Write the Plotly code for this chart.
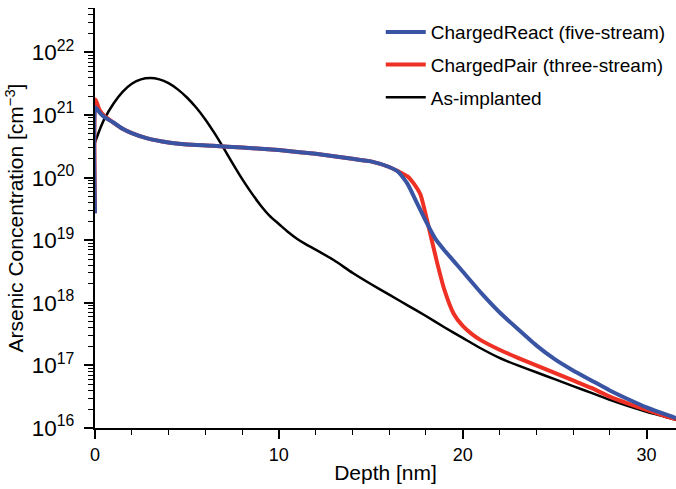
import plotly.graph_objects as go
import numpy as np

# Depth [nm] and log10(concentration [cm^-3])
black_x = [0, 0.25, 0.5, 1.0, 1.5, 2.0, 2.5, 3.0, 3.5, 4.0, 4.5, 5.0, 5.5, 6.0, 6.5, 7.0, 7.5, 8.0,
           8.5, 9.0, 9.5, 10, 10.5, 11, 11.5, 12, 13, 14, 15, 16, 17, 18, 19, 20, 21, 22, 23, 24,
           25, 26, 27, 28, 29, 30, 31, 31.6]
black_log = [20.56, 20.76, 20.93, 21.18, 21.37, 21.50, 21.57, 21.59, 21.57, 21.51, 21.41, 21.28,
             21.12, 20.93, 20.71, 20.47, 20.22, 19.98, 19.76, 19.56, 19.39, 19.26, 19.13, 19.02,
             18.93, 18.85, 18.68, 18.48, 18.30, 18.13, 17.96, 17.79, 17.61, 17.44, 17.27, 17.12,
             17.00, 16.89, 16.78, 16.67, 16.56, 16.45, 16.35, 16.26, 16.18, 16.13]

blue_x = [0, 0.02, 0.25, 0.5, 1.0, 1.5, 2.0, 2.8, 4.0, 5.0, 6.4, 8.0, 10, 12, 14, 15, 16, 16.5,
          17, 17.5, 18, 18.5, 19, 19.5, 20, 21, 22, 23, 24, 25, 26, 27, 28, 29, 30, 31, 31.6]
blue_log = [19.43, 21.12, 21.04, 20.97, 20.88, 20.78, 20.71, 20.63, 20.56, 20.53, 20.51, 20.48,
            20.44, 20.38, 20.30, 20.26, 20.17, 20.09, 19.90, 19.60, 19.30, 19.03, 18.84, 18.67,
            18.50, 18.16, 17.85, 17.58, 17.32, 17.10, 16.92, 16.76, 16.60, 16.46, 16.33, 16.22,
            16.16]

red_x = [0, 0.02, 0.25, 0.5, 1.0, 1.5, 2.0, 2.8, 4.0, 5.0, 6.4, 8.0, 10, 12, 14, 15, 16, 16.5,
         17, 17.3, 17.7, 18.1, 18.6, 19, 19.5, 20, 20.5, 21, 22, 23, 24, 25, 26, 27, 28, 29, 30,
         31, 31.6]
red_log = [19.43, 21.25, 21.08, 20.99, 20.88, 20.78, 20.71, 20.63, 20.56, 20.53, 20.51, 20.48,
           20.44, 20.38, 20.30, 20.26, 20.17, 20.10, 20.02, 19.92, 19.73, 19.27, 18.65, 18.21,
           17.83, 17.63, 17.50, 17.40, 17.25, 17.12, 17.00, 16.88, 16.76, 16.64, 16.50, 16.39,
           16.29, 16.19, 16.14]

names = ["ChargedReact (five-stream)", "ChargedPair (three-stream)", "As-implanted"]
colors = ["#3a54a4", "#ee3124", "#000000"]

FONT = "Liberation Sans, Arial, Helvetica, sans-serif"
X_RANGE = [0, 31.6]
Y_RANGE = [16, 22.71]

fig = go.Figure()
fig.add_trace(go.Scatter(x=black_x, y=(10.0 ** np.array(black_log)).tolist(), mode="lines",
                         name=names[2], line=dict(color=colors[2], width=2.5, shape="spline",
                                                  smoothing=0.6),
                         legendgroup="c", legendrank=3))
fig.add_trace(go.Scatter(x=red_x, y=(10.0 ** np.array(red_log)).tolist(), mode="lines",
                         name=names[1], line=dict(color=colors[1], width=4, shape="spline",
                                                  smoothing=0.5),
                         legendgroup="b", legendrank=2))
fig.add_trace(go.Scatter(x=blue_x, y=(10.0 ** np.array(blue_log)).tolist(), mode="lines",
                         name=names[0], line=dict(color=colors[0], width=4, shape="spline",
                                                  smoothing=0.5),
                         legendgroup="a", legendrank=1))

fig.update_layout(
    width=676, height=489,
    margin=dict(l=95, r=0, t=8, b=61),
    plot_bgcolor="white",
    font=dict(family=FONT, size=18, color="#000000"),
    showlegend=True,
    legend=dict(x=0.991, xanchor="right", y=0.988, yanchor="top",
                traceorder="grouped",
                font=dict(size=19), bgcolor="rgba(0,0,0,0)", tracegroupgap=5,
                itemwidth=40),
    xaxis=dict(range=X_RANGE, showline=True, linecolor="#000000", linewidth=2,
               dtick=10, tick0=0,
               ticks="outside", ticklen=9, tickwidth=2, tickcolor="#000000",
               minor=dict(dtick=2, tick0=0, ticks="outside", ticklen=5,
                          tickwidth=1, tickcolor="#000000"),
               title=dict(text="Depth [nm]", font=dict(size=21), standoff=2)),
    yaxis=dict(type="log", range=Y_RANGE, showline=True, linecolor="#000000", linewidth=2,
               dtick=1, exponentformat="power", ticklabelstandoff=6,
               ticks="outside", ticklen=9, tickwidth=2, tickcolor="#000000",
               minor=dict(ticks="outside", ticklen=5, tickwidth=1, tickcolor="#000000"),
               title=dict(text="Arsenic Concentration [cm<sup>\u22123</sup>]",
                          font=dict(size=21), standoff=2)),
)

fig.write_html("out.html")
